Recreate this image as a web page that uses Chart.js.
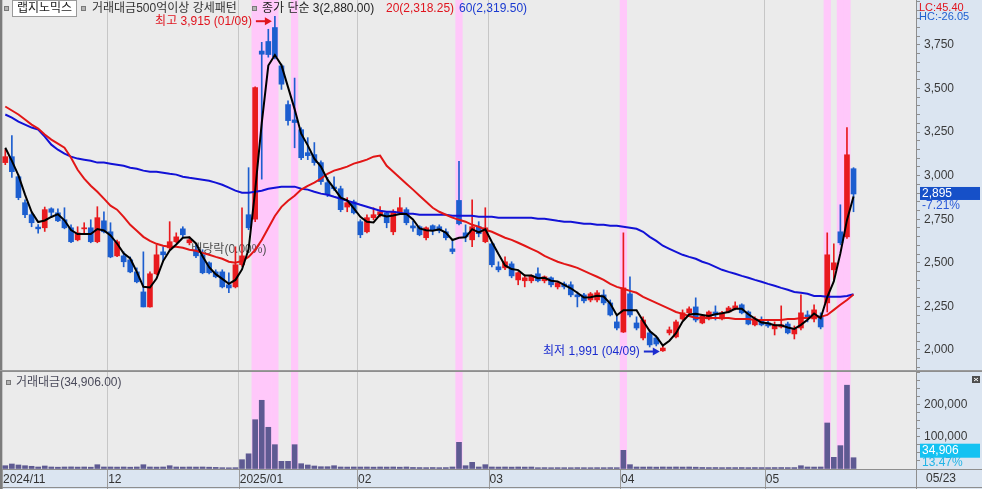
<!DOCTYPE html>
<html lang="ko">
<head>
<meta charset="utf-8">
<title>랩지노믹스</title>
<script src="https://cdn.jsdelivr.net/npm/chart.js@4.4.1/dist/chart.umd.min.js"></script>
<style>
  html, body { margin: 0; padding: 0; background: #ebebeb; }
  #wrap { position: relative; width: 982px; height: 489px; overflow: hidden; background: #ebebeb; }
  canvas { position: absolute; left: 0; }
  #price { top: 0; }
  #vol { top: 371px; }
</style>
</head>
<body>
<div id="wrap">
  <canvas id="price" width="982" height="371"></canvas>
  <canvas id="vol" width="982" height="118"></canvas>
</div>
<script>
const stockName = '랩지노믹스';
const patternName = '거래대금500억이상 강세패턴';

const dates = [
  '2024-11-08','2024-11-11','2024-11-12','2024-11-13','2024-11-14','2024-11-15','2024-11-18','2024-11-19','2024-11-20','2024-11-21',
  '2024-11-22','2024-11-25','2024-11-26','2024-11-27','2024-11-28','2024-11-29','2024-12-02','2024-12-03','2024-12-04','2024-12-05',
  '2024-12-06','2024-12-09','2024-12-10','2024-12-11','2024-12-12','2024-12-13','2024-12-16','2024-12-17','2024-12-18','2024-12-19',
  '2024-12-20','2024-12-23','2024-12-24','2024-12-26','2024-12-27','2024-12-30','2025-01-02','2025-01-03','2025-01-06','2025-01-07',
  '2025-01-08','2025-01-09','2025-01-10','2025-01-13','2025-01-14','2025-01-15','2025-01-16','2025-01-17','2025-01-20','2025-01-21',
  '2025-01-22','2025-01-23','2025-01-24','2025-01-31','2025-02-03','2025-02-04','2025-02-05','2025-02-06','2025-02-07','2025-02-10',
  '2025-02-11','2025-02-12','2025-02-13','2025-02-14','2025-02-17','2025-02-18','2025-02-19','2025-02-20','2025-02-21','2025-02-24',
  '2025-02-25','2025-02-26','2025-02-27','2025-02-28','2025-03-04','2025-03-05','2025-03-06','2025-03-07','2025-03-10','2025-03-11',
  '2025-03-12','2025-03-13','2025-03-14','2025-03-17','2025-03-18','2025-03-19','2025-03-20','2025-03-21','2025-03-24','2025-03-25',
  '2025-03-26','2025-03-27','2025-03-28','2025-03-31','2025-04-01','2025-04-02','2025-04-03','2025-04-04','2025-04-07','2025-04-08',
  '2025-04-09','2025-04-10','2025-04-11','2025-04-14','2025-04-15','2025-04-16','2025-04-17','2025-04-18','2025-04-21','2025-04-22',
  '2025-04-23','2025-04-24','2025-04-25','2025-04-28','2025-04-29','2025-04-30','2025-05-02','2025-05-07','2025-05-08','2025-05-09',
  '2025-05-12','2025-05-13','2025-05-14','2025-05-15','2025-05-16','2025-05-19','2025-05-20','2025-05-21','2025-05-22','2025-05-23'
];

const opens = [
  3075,3109,2994,2845,2776,2705,2701,2810,2787,2747, 2701,2632,2695,2701,2621,2741,2678,2540,2540,2517,
  2448,2333,2247,2437,2563,2586,2621,2695,2615,2575, 2546,2500,2448,2448,2374,2362,2489,2776,2750,3715,
  3770,3850,3630,3408,3320,3264,3132,3121,3075,2960, 2935,2925,2820,2850,2736,2678,2759,2776,2787,2678,
  2787,2805,2712,2707,2644,2713,2707,2678,2580,2858, 2672,2632,2707,2621,2609,2477,2471,2494,2402,2397,
  2397,2437,2397,2414,2362,2379,2374,2316,2316,2287, 2287,2316,2270,2161,2103,2322,2155,2069,2098,2069,
  1995,2098,2075,2178,2213,2247,2155,2178,2218,2178, 2218,2236,2259,2218,2144,2172,2155,2121,2132,2149,
  2092,2126,2201,2178,2195,2270,2460,2678,2649,3040
];
const highs = [
  3150,3230,3005,2862,2787,2720,2820,2816,2810,2816, 2718,2707,2730,2747,2822,2793,2730,2630,2563,2534,
  2471,2563,2448,2603,2592,2736,2672,2707,2649,2603, 2575,2506,2460,2460,2443,2592,2816,3046,3510,3765,
  3840,3915,3640,3430,3560,3275,3218,3190,3085,2990, 2994,2940,2874,2860,2747,2776,2816,2822,2793,2805,
  2874,2816,2740,2713,2707,2718,2718,2695,2632,3082, 2718,2862,2736,2816,2615,2506,2534,2506,2448,2431,
  2431,2471,2425,2420,2390,2390,2391,2333,2325,2330, 2340,2345,2287,2201,2672,2420,2190,2190,2115,2080,
  2029,2132,2172,2230,2247,2299,2200,2225,2253,2222, 2250,2276,2265,2224,2190,2190,2165,2161,2253,2160,
  2138,2316,2224,2259,2213,2672,2609,2833,3276,3046
];
const lows = [
  3063,2990,2862,2759,2707,2670,2680,2764,2736,2695, 2615,2626,2672,2615,2615,2672,2529,2535,2477,2443,
  2385,2247,2245,2431,2506,2575,2615,2649,2603,2529, 2437,2437,2414,2356,2328,2356,2480,2690,2736,2980,
  3680,3670,3495,3290,3160,3092,3092,3060,2950,2880, 2915,2793,2793,2780,2644,2672,2747,2764,2701,2661,
  2776,2718,2680,2655,2632,2661,2672,2632,2552,2718, 2621,2592,2649,2615,2477,2448,2460,2414,2374,2362,
  2385,2391,2385,2362,2350,2350,2305,2247,2270,2276, 2276,2259,2195,2115,2100,2190,2115,2057,2017,2023,
  1991,2086,2069,2172,2207,2161,2150,2172,2172,2172, 2213,2230,2207,2144,2138,2138,2130,2086,2126,2092,
  2063,2115,2161,2161,2121,2218,2402,2603,2640,2793
];
const closes = [
  3109,3023,2874,2776,2730,2695,2805,2790,2741,2701, 2621,2672,2701,2621,2759,2678,2534,2621,2506,2448,
  2391,2247,2437,2546,2546,2621,2649,2661,2632,2540, 2443,2443,2420,2362,2356,2489,2540,2701,3505,3697,
  3695,3683,3525,3316,3305,3103,3115,3075,2966,2891, 2925,2805,2845,2787,2661,2759,2776,2793,2730,2793,
  2816,2730,2700,2661,2701,2690,2684,2644,2565,2724, 2649,2707,2667,2701,2489,2460,2506,2425,2443,2414,
  2425,2397,2420,2374,2385,2362,2316,2305,2282,2322, 2328,2270,2201,2126,2356,2201,2126,2172,2029,2034,
  2011,2115,2161,2213,2236,2172,2195,2218,2201,2213, 2241,2253,2213,2149,2178,2144,2138,2144,2144,2098,
  2121,2213,2184,2230,2132,2546,2500,2615,3120,2895
];

// 종가 단순 이동평균 3 / 20 / 60
const ma3 = [
  3160,3085,3002,2891,2793,2734,2743,2763,2779,2744, 2688,2665,2665,2665,2694,2686,2657,2611,2554,2525,
  2448,2362,2358,2410,2510,2571,2605,2644,2647,2611, 2538,2475,2435,2408,2379,2402,2462,2577,2915,3301,
  3632,3692,3634,3508,3382,3241,3174,3098,3052,2977, 2927,2874,2858,2812,2764,2736,2732,2776,2766,2772,
  2780,2780,2749,2697,2687,2684,2692,2673,2631,2644, 2646,2693,2674,2692,2619,2550,2485,2464,2458,2427,
  2427,2412,2414,2397,2393,2374,2354,2328,2301,2303, 2311,2307,2266,2199,2228,2228,2228,2166,2109,2078,
  2025,2053,2096,2163,2203,2207,2201,2195,2205,2211, 2218,2236,2236,2205,2180,2157,2153,2142,2142,2129,
  2121,2144,2173,2209,2182,2303,2393,2554,2745,2880
];
const ma20 = [
  3397,3374,3351,3322,3293,3270,3236,3207,3184,3161, 3103,3034,2983,2942,2908,2868,2828,2805,2764,2718,
  2684,2649,2626,2609,2598,2592,2592,2586,2575,2569, 2557,2546,2534,2523,2506,2500,2511,2534,2574,2631,
  2700,2769,2821,2856,2885,2920,2942,2960,2983,3011, 3029,3040,3052,3069,3080,3092,3109,3115,3057,3023,
  2988,2954,2920,2885,2851,2816,2793,2776,2759,2747, 2736,2718,2707,2690,2678,2661,2644,2632,2615,2598,
  2580,2563,2540,2523,2506,2494,2483,2471,2454,2437, 2420,2402,2379,2362,2351,2339,2328,2305,2287,2270,
  2253,2236,2218,2207,2195,2184,2184,2184,2184,2184, 2184,2178,2178,2178,2172,2172,2172,2172,2172,2178,
  2178,2184,2184,2190,2190,2201,2230,2259,2287,2318.25
];
const ma60 = [
  3351,3333,3310,3293,3276,3264,3224,3178,3149,3126, 3109,3098,3092,3086,3075,3075,3069,3063,3057,3046,
  3040,3029,3023,3023,3017,3011,3006,2994,2988,2983, 2977,2971,2960,2948,2931,2914,2902,2902,2908,2914,
  2925,2931,2937,2937,2937,2925,2920,2908,2897,2891, 2879,2868,2856,2845,2833,2822,2810,2799,2793,2793,
  2787,2782,2782,2776,2776,2776,2776,2776,2770,2770, 2770,2770,2764,2764,2764,2759,2759,2759,2759,2759,
  2759,2753,2753,2747,2741,2736,2736,2730,2724,2724, 2718,2718,2713,2713,2707,2701,2695,2678,2649,2626,
  2598,2580,2563,2546,2534,2523,2506,2494,2477,2460, 2448,2437,2425,2414,2402,2391,2379,2368,2356,2345,
  2333,2328,2322,2310,2310,2305,2305,2305,2310,2319.5
];

// 거래대금 (백만원)
const volumes = [
  10200,15500,12400,10200,8400,6200,9300,6200,5600,6200, 6500,5900,6200,5600,13300,6200,6200,5900,6200,5600,
  6200,13300,6200,5900,6200,10200,6200,5900,6200,6000, 6200,5600,5000,4100,3800,4100,28800,47000,152500,212500,
  129000,75200,23800,23800,75200,16400,12400,9300,7100,7100, 10200,6200,6000,6200,6100,6200,5800,6200,6000,6200,
  5600,6200,4800,4500,4300,4600,4200,4400,6200,82500, 10200,20600,6200,13400,6200,6000,6200,5800,6200,5900,
  6100,4100,4300,4000,4200,4100,4000,4300,4100,4000, 4200,4100,4300,4100,57700,13400,6200,6000,6200,5800,
  6200,6000,6200,5900,6200,5600,4800,4500,4600,4300, 4500,4400,4600,4300,4500,4400,4300,4500,4600,4400,
  4400,10200,6200,6000,6200,142300,36100,72200,259140,34906
];

// 거래대금500억이상 강세패턴 발생일
const strongDays = ['2025-01-06','2025-01-07','2025-01-08','2025-01-09','2025-01-14','2025-02-24','2025-04-01','2025-05-19','2025-05-21','2025-05-22'];
const exDividend = { date: '2024-12-27', label: '배당락(0.00%)', price: 2575 };

const priceTicks = [2000, 2250, 2500, 2750, 3000, 3250, 3500, 3750];
const volumeTicks = [100000, 200000];

const SLOTS = 139;
const PMIN = 1885, PMAX = 4008, VMAX = 300000;
const RED = '#e81a1e', BLUE = '#1c5ecf', PINK = '#ffc8fa', VOLC = '#5e5a92';
const FONT = "'Liberation Sans', 'Noto Sans CJK KR', sans-serif";

const labels = dates.concat(Array(SLOTS - dates.length).fill(''));
const monthIdx = dates.map((d, i) => i).filter(i => i === 0 || dates[i].slice(0, 7) !== dates[i - 1].slice(0, 7));
const monthLabel = i => {
  const m = dates[i].slice(5, 7);
  return (i === 0 || m === '01') ? dates[i].slice(0, 4) + '/' + m : m;
};
const strong = dates.map(d => strongDays.includes(d));
const candleColor = dates.map((d, i) => closes[i] >= opens[i] ? RED : BLUE);
const gridColor = ctx => monthIdx.includes(ctx.index) ? '#c6c6c6' : 'rgba(0,0,0,0)';
const fmt = (n, dp = 0) => n.toLocaleString('en-US', { minimumFractionDigits: dp, maximumFractionDigits: dp });
const mmdd = d => d.slice(5).replace('-', '/');

const priceMinor = [];
for (let v = 1900; v <= 4000; v += 50) priceMinor.push(v);
const volMinor = [];
for (let v = 0; v <= VMAX; v += 25000) volMinor.push(v);

const text = (ctx, s, x, y, color, size = 12, align = 'left') => {
  ctx.font = size + 'px ' + FONT;
  ctx.fillStyle = color;
  ctx.textAlign = align;
  ctx.textBaseline = 'middle';
  ctx.fillText(s, x, y);
  return ctx.measureText(s).width;
};
const icon = (ctx, x, y) => {
  ctx.fillStyle = '#b4b4b4';
  ctx.fillRect(x, y, 5, 5);
  ctx.strokeStyle = '#7a7a7a';
  ctx.lineWidth = 1;
  ctx.strokeRect(x + 0.5, y + 0.5, 4, 4);
};
const arrow = (ctx, x0, x1, yy, color) => {
  ctx.strokeStyle = color;
  ctx.fillStyle = color;
  ctx.lineWidth = 2;
  ctx.beginPath(); ctx.moveTo(x0, yy); ctx.lineTo(x1 - 5, yy); ctx.stroke();
  ctx.beginPath(); ctx.moveTo(x1, yy); ctx.lineTo(x1 - 7, yy - 4); ctx.lineTo(x1 - 7, yy + 4); ctx.closePath(); ctx.fill();
};

const pricePlugin = {
  id: 'priceDeco',
  beforeDraw: chart => {
    const { ctx, chartArea: a, width, height } = chart;
    ctx.save();
    ctx.fillStyle = '#ebebeb'; ctx.fillRect(0, 0, width, height);
    ctx.fillStyle = '#dbe5f1'; ctx.fillRect(a.right, 0, width - a.right, height);
    ctx.restore();
  },
  // ex-dividend note sits over the pink bands but under the candles
  beforeDatasetDraw: (chart, args) => {
    if (args.index !== 4) return;
    const { ctx, scales: { x, y } } = chart;
    ctx.save();
    text(ctx, exDividend.label, x.getPixelForValue(dates.indexOf(exDividend.date)), y.getPixelForValue(exDividend.price), '#505050', 12, 'center');
    ctx.restore();
  },
  afterDatasetsDraw: chart => {
    const { ctx, scales: { x, y } } = chart;
    ctx.save();
    // 최고 / 최저
    const hi = Math.max(...highs), iHi = highs.indexOf(hi);
    const lo = Math.min(...lows), iLo = lows.indexOf(lo);
    let px = x.getPixelForValue(iHi), py = y.getPixelForValue(hi) + 5;
    text(ctx, '최고 ' + fmt(hi) + ' (' + mmdd(dates[iHi]) + ')', px - 23, py, '#e0141e', 12, 'right');
    arrow(ctx, px - 19, px - 3, py, '#e0141e');
    px = x.getPixelForValue(iLo); py = y.getPixelForValue(lo);
    text(ctx, '최저 ' + fmt(lo) + ' (' + mmdd(dates[iLo]) + ')', px - 23, py, '#1b2ccf', 12, 'right');
    arrow(ctx, px - 19, px - 3, py, '#1b2ccf');

    // legend row
    icon(ctx, 4, 6);
    ctx.font = '12px ' + FONT;
    const w = Math.max(ctx.measureText(stockName).width + 8, 65);
    ctx.fillStyle = '#ffffff'; ctx.fillRect(12, 0, w, 17);
    ctx.strokeStyle = '#9a9a9a'; ctx.lineWidth = 1; ctx.strokeRect(12.5, 0.5, w - 1, 16);
    text(ctx, stockName, 12 + w / 2, 9, '#222', 12, 'center');
    icon(ctx, 81, 6);
    text(ctx, patternName, 92, 9, '#333');
    icon(ctx, 252, 6);
    const last = dates.length - 1;
    text(ctx, '종가 단순 3(' + fmt(ma3[last], 2) + ')', 262, 9, '#222');
    text(ctx, '20(' + fmt(ma20[last], 2) + ')', 386, 9, '#e0141e');
    text(ctx, '60(' + fmt(ma60[last], 2) + ')', 459, 9, '#1a3ad0');
    ctx.restore();
  },
  afterDraw: chart => {
    const { ctx, chartArea: a, scales: { y }, width, height } = chart;
    ctx.save();
    const last = dates.length - 1;
    const lc = (closes[last] / Math.min(...lows) - 1) * 100;
    const hc = (closes[last] / Math.max(...highs) - 1) * 100;
    text(ctx, 'LC:' + fmt(lc, 2), a.right + 3, 8, '#e0141e', 11);
    text(ctx, 'HC:' + fmt(hc, 2), a.right + 3, 17, '#2060d0', 11);
    const yc = y.getPixelForValue(closes[last]);
    ctx.fillStyle = '#1650c8';
    ctx.fillRect(a.right + 4, yc - 7, 60, 13);
    text(ctx, fmt(closes[last]), a.right + 6, yc, '#ffffff');
    const chg = (closes[last] / closes[last - 1] - 1) * 100;
    text(ctx, fmt(chg, 2) + '%', a.right + 6, yc + 12, '#2a5ad8');
    // frame
    ctx.fillStyle = '#7c7c7c'; ctx.fillRect(0, 0, 2, height);
    ctx.fillStyle = '#9a9a9a'; ctx.fillRect(0, height - 1, width, 1);
    ctx.restore();
  }
};

const volPlugin = {
  id: 'volDeco',
  beforeDraw: chart => {
    const { ctx, chartArea: a, width, height } = chart;
    ctx.save();
    ctx.fillStyle = '#ebebeb'; ctx.fillRect(0, 0, width, height);
    ctx.fillStyle = '#dbe5f1';
    ctx.fillRect(a.right, 0, width - a.right, height);
    ctx.fillRect(0, a.bottom, width, height - a.bottom);
    ctx.restore();
  },
  afterDraw: chart => {
    const { ctx, chartArea: a, scales: { x, y }, width, height } = chart;
    ctx.save();
    const slot = (a.right - a.left) / SLOTS;
    ctx.fillStyle = '#9c9c9c';
    monthIdx.forEach(i => ctx.fillRect(Math.round(x.getPixelForValue(i) - slot / 2), a.bottom, 1, height - a.bottom));
    ctx.fillStyle = '#8e8e8e';
    ctx.fillRect(0, 0, width, 1);
    ctx.fillRect(0, a.bottom, width, 1);
    ctx.fillRect(0, height - 2, width, 1);
    ctx.fillRect(a.right, a.bottom, 1, height - a.bottom);
    ctx.fillStyle = '#7c7c7c'; ctx.fillRect(0, 0, 2, height);

    const last = dates.length - 1;
    text(ctx, mmdd(dates[last]), a.right + 10, a.bottom + 9.5, '#333');

    icon(ctx, 6, 9);
    text(ctx, '거래대금(' + fmt(volumes[last], 2) + ')', 16, 12, '#4a4a5a');

    const yc = y.getPixelForValue(volumes[last]) - 7;
    ctx.fillStyle = '#14c2f2';
    ctx.fillRect(a.right + 4, yc - 7, 60, 14);
    text(ctx, fmt(volumes[last]), a.right + 6, yc, '#ffffff');
    text(ctx, fmt(volumes[last] / volumes[last - 1] * 100, 2) + '%', a.right + 6, yc + 12, '#22b4e6');

    // close box
    ctx.fillStyle = '#4e4e4e'; ctx.fillRect(width - 10, 5, 8, 7);
    ctx.strokeStyle = '#ffffff'; ctx.lineWidth = 1;
    ctx.beginPath(); ctx.moveTo(width - 8, 7); ctx.lineTo(width - 4, 10); ctx.moveTo(width - 4, 7); ctx.lineTo(width - 8, 10); ctx.stroke();
    ctx.restore();
  }
};

new Chart(document.getElementById('price'), {
  type: 'bar',
  data: {
    labels,
    datasets: [
      { type: 'line', data: ma3, borderColor: '#000000', borderWidth: 2, pointRadius: 0, order: 1 },
      { type: 'line', data: ma20, borderColor: '#e21616', borderWidth: 2, pointRadius: 0, order: 2 },
      { type: 'line', data: ma60, borderColor: '#1212d6', borderWidth: 2, pointRadius: 0, order: 3 },
      { data: opens.map((o, i) => [o, closes[i]]), backgroundColor: candleColor, barThickness: 5, minBarLength: 1, grouped: false, order: 4 },
      { data: lows.map((l, i) => [l, highs[i]]), backgroundColor: candleColor, barThickness: 1, grouped: false, order: 5 },
      { data: strong.map(s => s ? [PMIN, PMAX] : null), backgroundColor: PINK, barPercentage: 1, categoryPercentage: 1, grouped: false, order: 9 }
    ]
  },
  options: {
    responsive: false,
    animation: false,
    devicePixelRatio: 1,
    layout: { padding: { left: 2, right: 0, top: 0, bottom: 1 } },
    plugins: { legend: { display: false }, tooltip: { enabled: false } },
    scales: {
      x: {
        offset: true,
        grid: { offset: true, drawTicks: false, color: gridColor },
        border: { display: false },
        ticks: { display: false },
        afterFit: s => { s.height = 0; s.paddingLeft = 0; s.paddingRight = 0; }
      },
      y: {
        position: 'right',
        min: PMIN,
        max: PMAX,
        afterBuildTicks: s => { s.ticks = priceMinor.map(v => ({ value: v })); },
        afterFit: s => { s.width = 66; s.paddingTop = 0; s.paddingBottom = 0; },
        grid: { drawOnChartArea: false, tickLength: 4, color: '#8e8e8e' },
        border: { color: '#8e8e8e' },
        ticks: {
          autoSkip: false, padding: 4, color: '#3a3a3a', font: { family: FONT, size: 12 },
          callback: v => priceTicks.includes(v) ? fmt(v) : ''
        }
      }
    }
  },
  plugins: [pricePlugin]
});

new Chart(document.getElementById('vol'), {
  type: 'bar',
  data: {
    labels,
    datasets: [
      { data: volumes, backgroundColor: VOLC, barThickness: 5, grouped: false, order: 1 },
      { data: strong.map(s => s ? [0, VMAX] : null), backgroundColor: PINK, barPercentage: 1, categoryPercentage: 1, grouped: false, order: 9 }
    ]
  },
  options: {
    responsive: false,
    animation: false,
    devicePixelRatio: 1,
    layout: { padding: { left: 2, right: 0, top: 1, bottom: 0 } },
    plugins: { legend: { display: false }, tooltip: { enabled: false } },
    scales: {
      x: {
        offset: true,
        grid: { offset: true, drawTicks: false, color: gridColor },
        border: { display: false },
        ticks: {
          autoSkip: false, maxRotation: 0, minRotation: 0, align: 'start', labelOffset: -2.3, padding: 3,
          color: '#333', font: { family: FONT, size: 12 },
          callback: (v, i) => monthIdx.includes(i) ? monthLabel(i) : ''
        },
        afterFit: s => { s.height = 20; s.paddingLeft = 0; s.paddingRight = 0; }
      },
      y: {
        position: 'right',
        min: 0,
        max: VMAX,
        afterBuildTicks: s => { s.ticks = volMinor.map(v => ({ value: v })); },
        afterFit: s => { s.width = 66; s.paddingTop = 0; s.paddingBottom = 0; },
        grid: { drawOnChartArea: false, tickLength: 4, color: '#8e8e8e' },
        border: { color: '#8e8e8e' },
        ticks: {
          autoSkip: false, padding: 4, color: '#3a3a3a', font: { family: FONT, size: 12 },
          callback: v => volumeTicks.includes(v) ? fmt(v) : ''
        }
      }
    }
  },
  plugins: [volPlugin]
});
</script>
</body>
</html>
